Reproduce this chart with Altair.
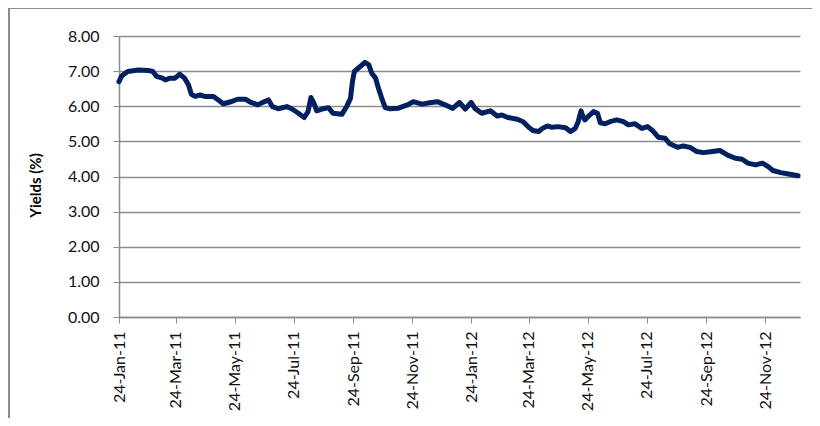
import altair as alt
import pandas as pd

# Yields, one value per date
dates = [
    "2011-01-24", "2011-01-27", "2011-02-02", "2011-02-13", "2011-02-23", "2011-02-28",
    "2011-03-04", "2011-03-10", "2011-03-13", "2011-03-18", "2011-03-23", "2011-03-28",
    "2011-04-02", "2011-04-06", "2011-04-09", "2011-04-13", "2011-04-18", "2011-04-23",
    "2011-05-02", "2011-05-07", "2011-05-12", "2011-05-19", "2011-05-27", "2011-06-04",
    "2011-06-09", "2011-06-17", "2011-06-22", "2011-06-28", "2011-07-02", "2011-07-08",
    "2011-07-17", "2011-07-22", "2011-07-29", "2011-08-04", "2011-08-08", "2011-08-11",
    "2011-08-14", "2011-08-17", "2011-08-24", "2011-08-29", "2011-09-03", "2011-09-12",
    "2011-09-17", "2011-09-21", "2011-09-23", "2011-09-25", "2011-09-28", "2011-10-03",
    "2011-10-06", "2011-10-10", "2011-10-13", "2011-10-17", "2011-10-20", "2011-10-24",
    "2011-10-27", "2011-11-01", "2011-11-09", "2011-11-19", "2011-11-25", "2011-12-04",
    "2011-12-10", "2011-12-20", "2011-12-28", "2012-01-05", "2012-01-12", "2012-01-18",
    "2012-01-24", "2012-01-28", "2012-02-04", "2012-02-13", "2012-02-20", "2012-02-25",
    "2012-03-02", "2012-03-12", "2012-03-18", "2012-03-23", "2012-03-28", "2012-04-03",
    "2012-04-07", "2012-04-12", "2012-04-17", "2012-04-23", "2012-05-01", "2012-05-06",
    "2012-05-11", "2012-05-14", "2012-05-17", "2012-05-19", "2012-05-21", "2012-05-24",
    "2012-05-30", "2012-06-03", "2012-06-06", "2012-06-11", "2012-06-16", "2012-06-23",
    "2012-06-30", "2012-07-05", "2012-07-12", "2012-07-19", "2012-07-25", "2012-07-30",
    "2012-08-05", "2012-08-12", "2012-08-17", "2012-08-25", "2012-08-31", "2012-09-07",
    "2012-09-14", "2012-09-21", "2012-09-30", "2012-10-08", "2012-10-16", "2012-10-24",
    "2012-10-31", "2012-11-06", "2012-11-14", "2012-11-21", "2012-11-27", "2012-12-02",
    "2012-12-10", "2012-12-18", "2012-12-28",
]
yields = [
    6.70, 6.87, 6.99, 7.03, 7.02, 6.99,
    6.85, 6.80, 6.75, 6.80, 6.80, 6.91,
    6.80, 6.61, 6.34, 6.28, 6.32, 6.28,
    6.28, 6.18, 6.07, 6.12, 6.20, 6.20,
    6.12, 6.04, 6.11, 6.18, 5.99, 5.93,
    5.99, 5.93, 5.80, 5.68, 5.85, 6.25,
    6.09, 5.87, 5.93, 5.96, 5.80, 5.77,
    5.99, 6.23, 6.70, 6.99, 7.06, 7.18,
    7.25, 7.18, 6.94, 6.80, 6.51, 6.18,
    5.96, 5.93, 5.94, 6.04, 6.13, 6.06,
    6.09, 6.13, 6.04, 5.94, 6.11, 5.92,
    6.11, 5.94, 5.80, 5.87, 5.72, 5.75,
    5.68, 5.63, 5.56, 5.42, 5.31, 5.28,
    5.37, 5.44, 5.40, 5.42, 5.39, 5.28,
    5.37, 5.56, 5.87, 5.70, 5.61, 5.70,
    5.85, 5.80, 5.53, 5.50, 5.56, 5.61,
    5.56, 5.47, 5.50, 5.37, 5.42, 5.31,
    5.12, 5.09, 4.93, 4.83, 4.87, 4.83,
    4.71, 4.68, 4.71, 4.74, 4.61, 4.52,
    4.49, 4.38, 4.33, 4.38, 4.28, 4.17,
    4.11, 4.07, 4.02,
]
y_ticks = [0, 1, 2, 3, 4, 5, 6, 7, 8]
tick_years = [2011, 2012]
tick_months = [1, 3, 5, 7, 9, 11]

df = pd.DataFrame({"date": pd.to_datetime(dates), "yield": yields})

grey = "#8c8c8c"
font = "Lato"

tick_dates = [alt.DateTime(year=y, month=m, date=24) for y in tick_years for m in tick_months]

line = alt.Chart(df).mark_line(
    color="#002060", strokeWidth=5, strokeCap="round", strokeJoin="round"
).encode(
    x=alt.X(
        "date:T",
        scale=alt.Scale(domain=[alt.DateTime(year=2011, month=1, date=24),
                                alt.DateTime(year=2012, month=12, date=30)]),
        axis=alt.Axis(values=tick_dates, format="%d-%b-%y", labelAngle=270,
                      labelAlign="right", labelBaseline="middle", labelPadding=8,
                      labelOverlap=False, labelFlush=False, tickSize=6,
                      tickColor=grey, domainColor=grey, domainWidth=1.5,
                      grid=False, title=None),
    ),
    y=alt.Y(
        "yield:Q",
        scale=alt.Scale(domain=[0, 8], nice=False),
        axis=alt.Axis(values=y_ticks, format=".2f", tickSize=6, labelPadding=14,
                      tickColor=grey, domainColor=grey, domainWidth=1.5,
                      grid=True, gridColor=grey, gridWidth=1.5,
                      title="Yields (%)", titleFontWeight="bold", titleFontSize=15,
                      titleX=-84, titleY=149, titleAlign="center",
                      titleBaseline="middle", titleColor="#000000"),
    ),
)

# outer chart-area border (left and top edges only)
frame = pd.DataFrame({"k": [0]})
left_edge = alt.Chart(frame).mark_rule(color=grey, strokeWidth=2).encode(
    x=alt.value(-110), x2=alt.value(-110), y=alt.value(-29), y2=alt.value(402)
)
top_edge = alt.Chart(frame).mark_rule(color=grey, strokeWidth=2).encode(
    x=alt.value(-110), x2=alt.value(700), y=alt.value(-28), y2=alt.value(-28)
)

chart = alt.layer(line, left_edge, top_edge).properties(
    width=681,
    height=281,
    autosize=alt.AutoSizeParams(type="none"),
    padding={"left": 111, "top": 28, "right": 12, "bottom": 101},
).configure_view(
    stroke=None
).configure_axis(
    labelFont=font, labelFontSize=16, labelColor="#111111", titleFont=font
)

chart.save("out.html", embed_options={"renderer": "svg", "actions": False})
